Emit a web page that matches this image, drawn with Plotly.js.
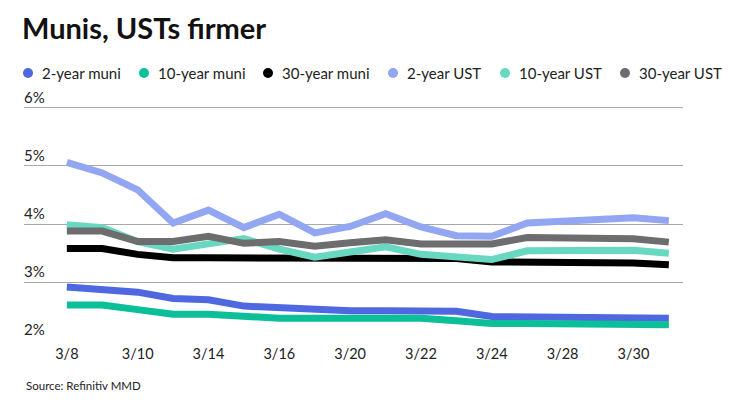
<!DOCTYPE html>
<html><head><meta charset="utf-8">
<script src="https://cdn.plot.ly/plotly-3.0.1.min.js"></script>
<style>html,body{margin:0;padding:0;background:#fff}#chart{width:740px;height:416px}</style>
</head><body><div id="chart"></div>
<script>
const dates = ["3/8","3/9","3/10","3/13","3/14","3/15","3/16","3/17","3/20","3/21","3/22","3/23","3/24","3/27","3/28","3/29","3/30","3/31"];
const tickLabels = ["3/8","3/10","3/14","3/16","3/20","3/22","3/24","3/28","3/30"];
const seriesNames = ["2-year muni","10-year muni","30-year muni","2-year UST","10-year UST","30-year UST"];
const muni2  = [2.92,2.88,2.83,2.72,2.70,2.59,2.56,2.54,2.51,2.51,2.51,2.50,2.41,2.41,2.41,2.41,2.38,2.38];
const muni10 = [2.61,2.61,2.53,2.45,2.45,2.41,2.38,2.38,2.38,2.38,2.38,2.34,2.29,2.29,2.29,2.29,2.27,2.27];
const muni30 = [3.58,3.58,3.48,3.42,3.42,3.42,3.42,3.42,3.42,3.42,3.41,3.41,3.35,3.35,3.35,3.35,3.33,3.30];
const ust2   = [5.06,4.88,4.59,4.02,4.24,3.94,4.17,3.85,3.96,4.18,3.95,3.80,3.79,4.02,4.05,4.09,4.11,4.06];
const ust10  = [3.99,3.94,3.70,3.57,3.66,3.75,3.57,3.43,3.52,3.61,3.48,3.43,3.39,3.54,3.55,3.57,3.55,3.50];
const ust30  = [3.88,3.88,3.70,3.70,3.79,3.67,3.70,3.62,3.68,3.73,3.66,3.66,3.66,3.77,3.77,3.78,3.75,3.69];
const yTicks = [2,3,4,5,6];
const yTickText = ["2%","3%","4%","5%","6%"];
const colors = ["#4f68e0","#0bbf98","#000000","#93a6f2","#68d8c0","#6d6d70"];
const series = [muni2, muni10, muni30, ust2, ust10, ust30];

const traces = series.map((ys, i) => ({x: dates, y: ys, type: "scatter", mode: "lines", name: seriesNames[i],
    line: {color: colors[i], width: 7, shape: "linear"}, showlegend: false, hoverinfo: "skip"}));

const W = 740, H = 416;
const M = {l: 24, r: 57, t: 102, b: 75};
const PW = W - M.l - M.r, PH = H - M.t - M.b;
const px = v => (v - M.l) / PW;          // pixel -> paper x
const py = v => (H - M.b - v) / PH;      // pixel -> paper y

// legend built as shapes + annotations
const legendX = [28, 144, 268, 393, 505, 625];
const legendY = 73;
const shapes = [], annotations = [];
seriesNames.forEach((n, i) => {
  shapes.push({type: "circle", xref: "paper", yref: "paper", xsizemode: "pixel", ysizemode: "pixel",
    xanchor: px(legendX[i]), yanchor: py(legendY), x0: -5, x1: 5, y0: -5, y1: 5,
    fillcolor: colors[i], line: {width: 0}});
  annotations.push({text: n, xref: "paper", yref: "paper", x: px(legendX[i] + 12), y: py(legendY),
    xanchor: "left", yanchor: "middle", showarrow: false, font: {size: 15, color: "#222"}});
});
// y tick labels above gridlines
yTicks.forEach((v, i) => {
  annotations.push({text: yTickText[i], xref: "paper", yref: "y", x: 0, y: v, xanchor: "left", yanchor: "bottom",
    showarrow: false, yshift: 0, xshift: -2, font: {size: 15, color: "#222"}});
});
annotations.push({text: "Source: Refinitiv MMD", xref: "paper", yref: "paper", x: px(24), y: py(385),
    xanchor: "left", yanchor: "middle", showarrow: false, font: {size: 11.5, color: "#222"}});

const layout = {
  width: W, height: H, margin: M,
  paper_bgcolor: "#fff", plot_bgcolor: "#fff",
  font: {family: "Lato, 'Open Sans', sans-serif", color: "#222", size: 14},
  title: {text: "<b>Munis, USTs firmer</b>", xref: "container", x: 22 / W, xanchor: "left",
    yref: "container", y: 1 - 29 / H, yanchor: "middle", font: {size: 29, color: "#111", family: "Lato, sans-serif"}},
  showlegend: false,
  xaxis: {type: "category", range: [-1.21, 17.4], tickmode: "array", tickvals: tickLabels, ticktext: tickLabels,
    showgrid: false, zeroline: false, showline: false, ticks: "", ticklabelstandoff: 2,
    tickfont: {size: 14.5, color: "#222"}, fixedrange: true},
  yaxis: {range: [1.99, 6.1], tickvals: yTicks, showticklabels: false,
    showgrid: true, gridcolor: "#a8a8a8", gridwidth: 1, zeroline: false, showline: false, ticks: "", fixedrange: true},
  shapes: shapes,
  annotations: annotations
};
Plotly.newPlot("chart", traces, layout, {displayModeBar: false, staticPlot: true});
</script></body></html>
